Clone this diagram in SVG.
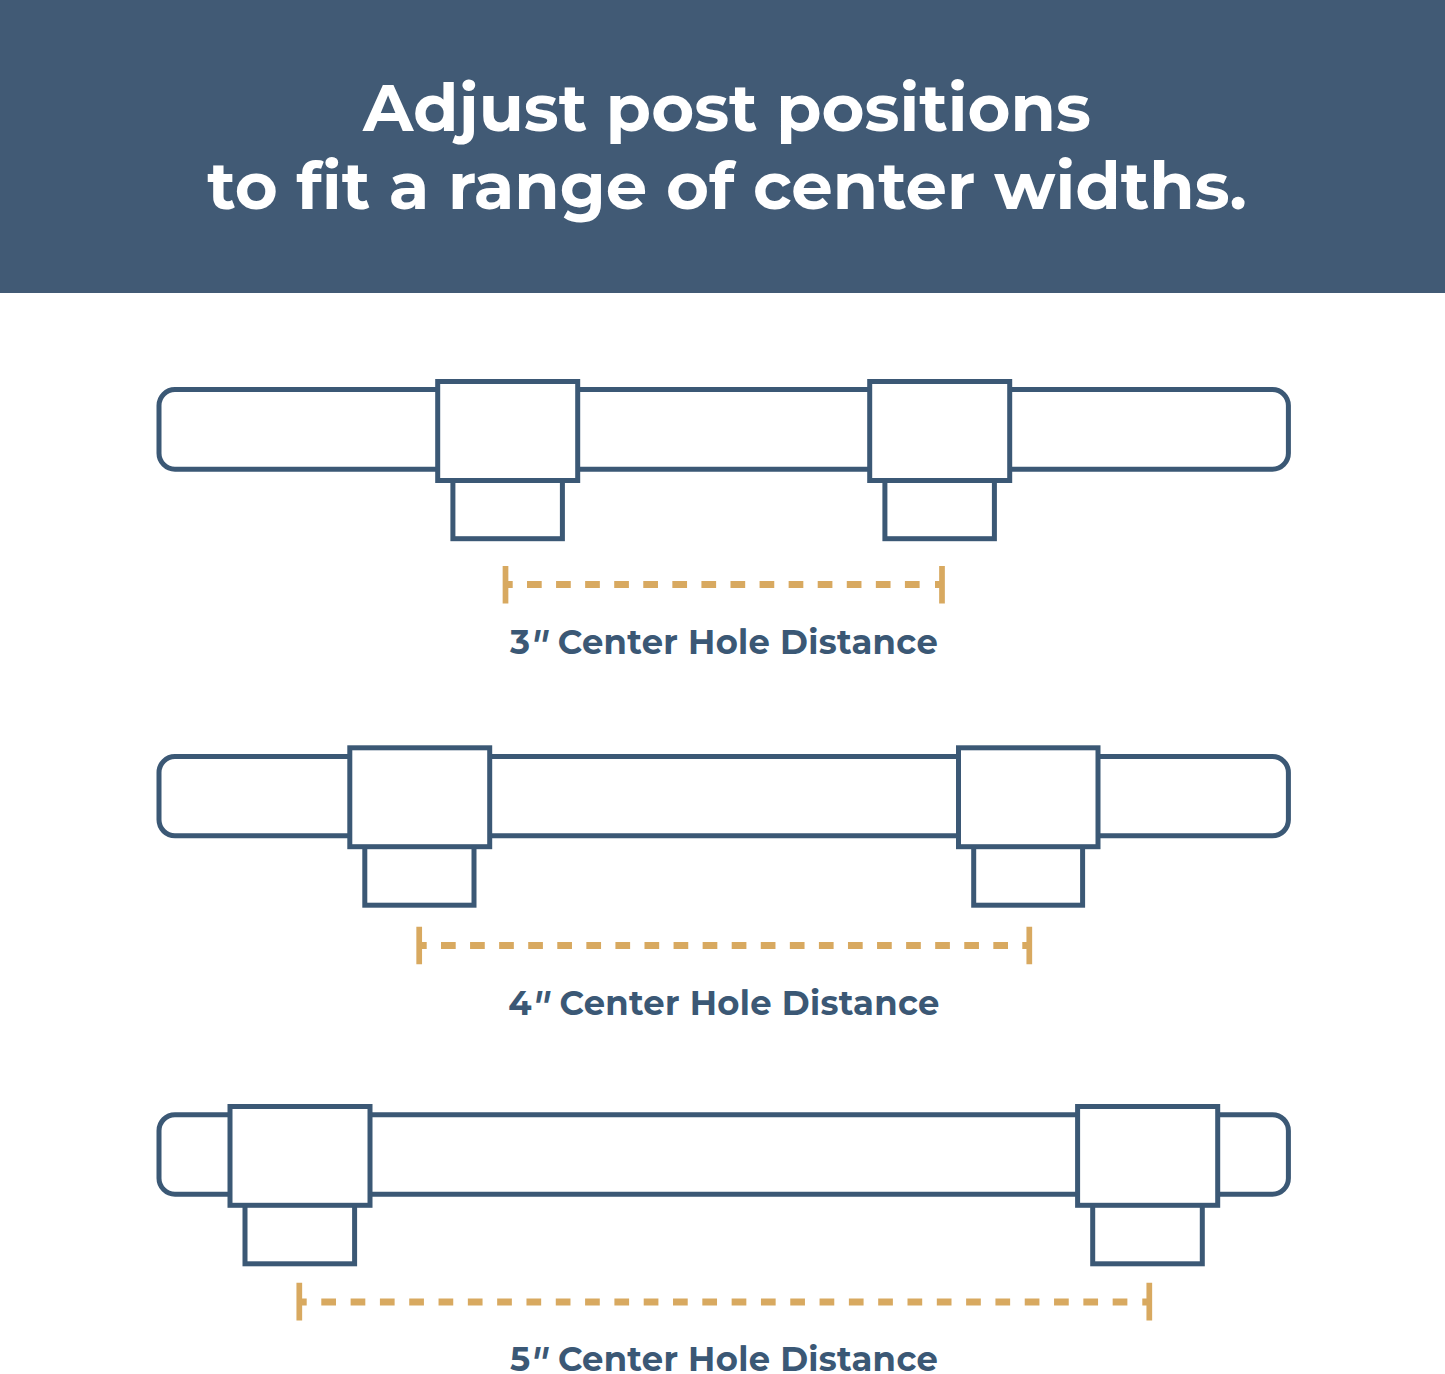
<svg xmlns="http://www.w3.org/2000/svg" width="1445" height="1374" viewBox="0 0 1445 1374">
<style>
.o{fill:#fff;stroke:#3b5875;stroke-width:5}
.d{fill:none;stroke:#d8a960;stroke-width:7;stroke-dasharray:14.7 14.37}
.e{fill:none;stroke:#d8a960;stroke-width:7;stroke-dasharray:14.7 14.61}
.t{fill:none;stroke:#d8a960;stroke-width:5.7}
.s{fill:none;stroke:#d8a960;stroke-width:7}
.l{font-family:"Montserrat","Inter","Liberation Sans",sans-serif;font-weight:700;font-size:33.8px;letter-spacing:.3px;fill:#3b5875;text-anchor:middle}
.q{font-style:italic;font-size:42px;font-weight:600}
.h{font-family:"Montserrat","Inter","Liberation Sans",sans-serif;font-weight:700;font-size:65.7px;fill:#fff;text-anchor:middle}
</style>
<rect width="1445" height="1374" fill="#fff"/>
<g id="header"><rect width="1445" height="293" fill="#415a75"/>
<text class="h" x="727" y="131">Adjust post positions</text>
<text class="h" x="727" y="209">to fit a range of center widths.</text></g>
<g id="bar1"><rect class="o" x="159" y="389.6" width="1129.4" height="79.6" rx="16"/>
<rect class="o" x="452.9" y="478" width="109.5" height="60.7"/><rect class="o" x="437.7" y="381.5" width="140" height="99"/>
<rect class="o" x="884.9" y="478" width="109.5" height="60.7"/><rect class="o" x="869.7" y="381.5" width="140" height="99"/></g>
<g id="bar2"><rect class="o" x="159" y="756.5" width="1129.4" height="79.3" rx="16"/>
<rect class="o" x="364.8" y="845" width="109.2" height="60.2"/><rect class="o" x="349.8" y="747.8" width="139.9" height="98.9"/>
<rect class="o" x="973.7" y="845" width="108.9" height="60.2"/><rect class="o" x="958.5" y="747.8" width="139.5" height="98.9"/></g>
<g id="bar3"><rect class="o" x="159" y="1114.7" width="1129.4" height="79.5" rx="16"/>
<rect class="o" x="245" y="1203" width="109.6" height="60.8"/><rect class="o" x="230" y="1106.5" width="140" height="98.8"/>
<rect class="o" x="1092.7" y="1203" width="109.6" height="60.8"/><rect class="o" x="1077.6" y="1106.5" width="140.1" height="98.8"/></g>
<g id="connectors">
<path class="t" d="M505.5 566V603.5M942 566V603.5M419.2 926.7V964.3M1029.3 926.7V964.3M299.3 1282.7V1320.5M1149.3 1282.7V1320.5"/>
<path class="s" d="M508 584.5H512.7M935 584.5H940M422 945.4H426.7M1022.3 945.4H1027M302 1302H306.7M1142.3 1302H1147"/>
<path class="d" d="M527 584.5H921M441 945.4H1008"/>
<path class="e" d="M321.3 1302H1128"/>
</g>
<g id="labels">
<text class="l" x="724" y="654">3<tspan class="q" dy="5.5">″</tspan><tspan dy="-5.5"> Center Hole Distance</tspan></text>
<text class="l" x="724" y="1015">4<tspan class="q" dy="5.5">″</tspan><tspan dy="-5.5"> Center Hole Distance</tspan></text>
<text class="l" x="724" y="1371">5<tspan class="q" dy="5.5">″</tspan><tspan dy="-5.5"> Center Hole Distance</tspan></text>
</g>
</svg>
